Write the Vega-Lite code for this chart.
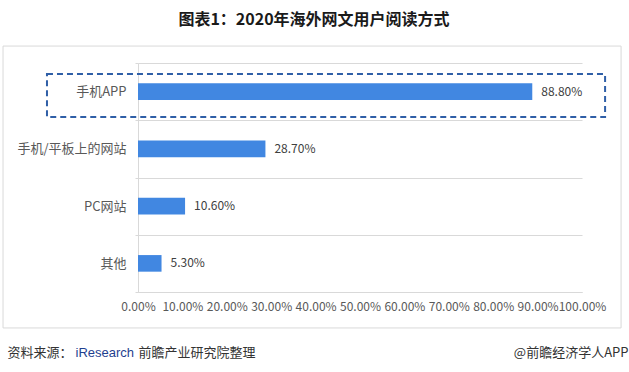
{
  "$schema": "https://vega.github.io/schema/vega-lite/v6.json",
  "width": 444,
  "height": 229,
  "autosize": {"type": "none"},
  "padding": {"left": 138, "top": 63, "right": 47, "bottom": 80},
  "background": "white",
  "config": {
    "font": "Noto Sans CJK SC",
    "view": {"stroke": null}
  },
  "title": {
    "text": "图表1：2020年海外网文用户阅读方式",
    "fontSize": 16,
    "fontWeight": "bold",
    "color": "#1a1a1a",
    "anchor": "middle",
    "frame": "group",
    "baseline": "bottom",
    "offset": 2,
    "dx": -46
  },
  "datasets": {
    "bars": [
      {"cat": "手机APP", "v": 0.888},
      {"cat": "手机/平板上的网站", "v": 0.287},
      {"cat": "PC网站", "v": 0.106},
      {"cat": "其他", "v": 0.053}
    ],
    "dash": [{"v": -0.205, "v2": 1.052, "y": 0.952, "y2": 0.764}],
    "border": [{"v": -0.304, "v2": 1.088, "y": 1.074, "y2": -0.157}]
  },
  "encoding": {
    "x": {
      "field": "v",
      "type": "quantitative",
      "scale": {"domain": [0, 1], "nice": false, "zero": true},
      "axis": {
        "values": [0, 0.1, 0.2, 0.3, 0.4, 0.5, 0.6, 0.7, 0.8, 0.9, 1],
        "format": ".2%",
        "grid": false,
        "ticks": false,
        "domain": true,
        "domainColor": "#d9d9d9",
        "labelFontSize": 12,
        "labelColor": "#595959",
        "labelPadding": 9,
        "labelFlush": false,
        "labelOverlap": false,
        "title": "资料来源：",
        "titleFontSize": 13,
        "titleFontWeight": "normal",
        "titleColor": "#333333",
        "titleAnchor": "start",
        "titleAlign": "left",
        "titleBaseline": "middle",
        "titleX": -131,
        "titleY": 60
      }
    }
  },
  "layer": [
    {
      "data": {"name": "bars"},
      "encoding": {
        "y": {
          "field": "cat",
          "type": "nominal",
          "sort": null,
          "scale": {"paddingInner": 0, "paddingOuter": 0},
          "axis": {
            "orient": "left",
            "grid": true,
            "gridColor": "#d9d9d9",
            "tickBand": "extent",
            "ticks": true,
            "tickSize": 3,
            "tickColor": "#d9d9d9",
            "domain": true,
            "domainColor": "#d9d9d9",
            "labelFontSize": 13,
            "labelColor": "#595959",
            "labelPadding": 9,
            "title": "@前瞻经济学人APP",
            "titleAngle": 0,
            "titleFontSize": 13,
            "titleFontWeight": "normal",
            "titleColor": "#333333",
            "titleAlign": "right",
            "titleBaseline": "middle",
            "titleX": 490,
            "titleY": 289
          }
        }
      },
      "layer": [
        {
          "mark": {"type": "bar", "color": "#4187E1", "height": {"band": 0.29}}
        },
        {
          "mark": {
            "type": "text",
            "align": "left",
            "baseline": "middle",
            "dx": 9,
            "fontSize": 12,
            "color": "#404040"
          },
          "encoding": {"text": {"field": "v", "type": "quantitative", "format": ".2%"}}
        }
      ]
    },
    {
      "data": {"name": "dash"},
      "mark": {
        "type": "rect",
        "fill": null,
        "fillOpacity": 0,
        "stroke": "#2F5FA7",
        "strokeWidth": 2,
        "strokeDash": [6, 4]
      },
      "encoding": {
        "x2": {"field": "v2"},
        "y": {
          "field": "y",
          "type": "quantitative",
          "scale": {"domain": [0, 1], "nice": false, "zero": false},
          "axis": {
            "orient": "left",
            "labels": false,
            "ticks": false,
            "domain": false,
            "grid": false,
            "title": "iResearch",
            "titleFont": "Liberation Sans",
            "titleAngle": 0,
            "titleFontSize": 13,
            "titleFontWeight": "normal",
            "titleColor": "#1F3F8F",
            "titleAlign": "left",
            "titleBaseline": "middle",
            "titleX": -63,
            "titleY": 289
          }
        },
        "y2": {"field": "y2"}
      }
    },
    {
      "data": {"name": "border"},
      "mark": {
        "type": "rect",
        "fill": null,
        "fillOpacity": 0,
        "stroke": "#d9d9d9",
        "strokeWidth": 1
      },
      "encoding": {
        "x2": {"field": "v2"},
        "y": {
          "field": "y",
          "type": "quantitative",
          "scale": {"domain": [0, 1], "nice": false, "zero": false},
          "axis": {
            "orient": "left",
            "labels": false,
            "ticks": false,
            "domain": false,
            "grid": false,
            "title": "前瞻产业研究院整理",
            "titleAngle": 0,
            "titleFontSize": 13,
            "titleFontWeight": "normal",
            "titleColor": "#333333",
            "titleAlign": "left",
            "titleBaseline": "middle",
            "titleX": 0,
            "titleY": 289
          }
        },
        "y2": {"field": "y2"}
      }
    }
  ],
  "resolve": {"scale": {"y": "independent"}}
}
